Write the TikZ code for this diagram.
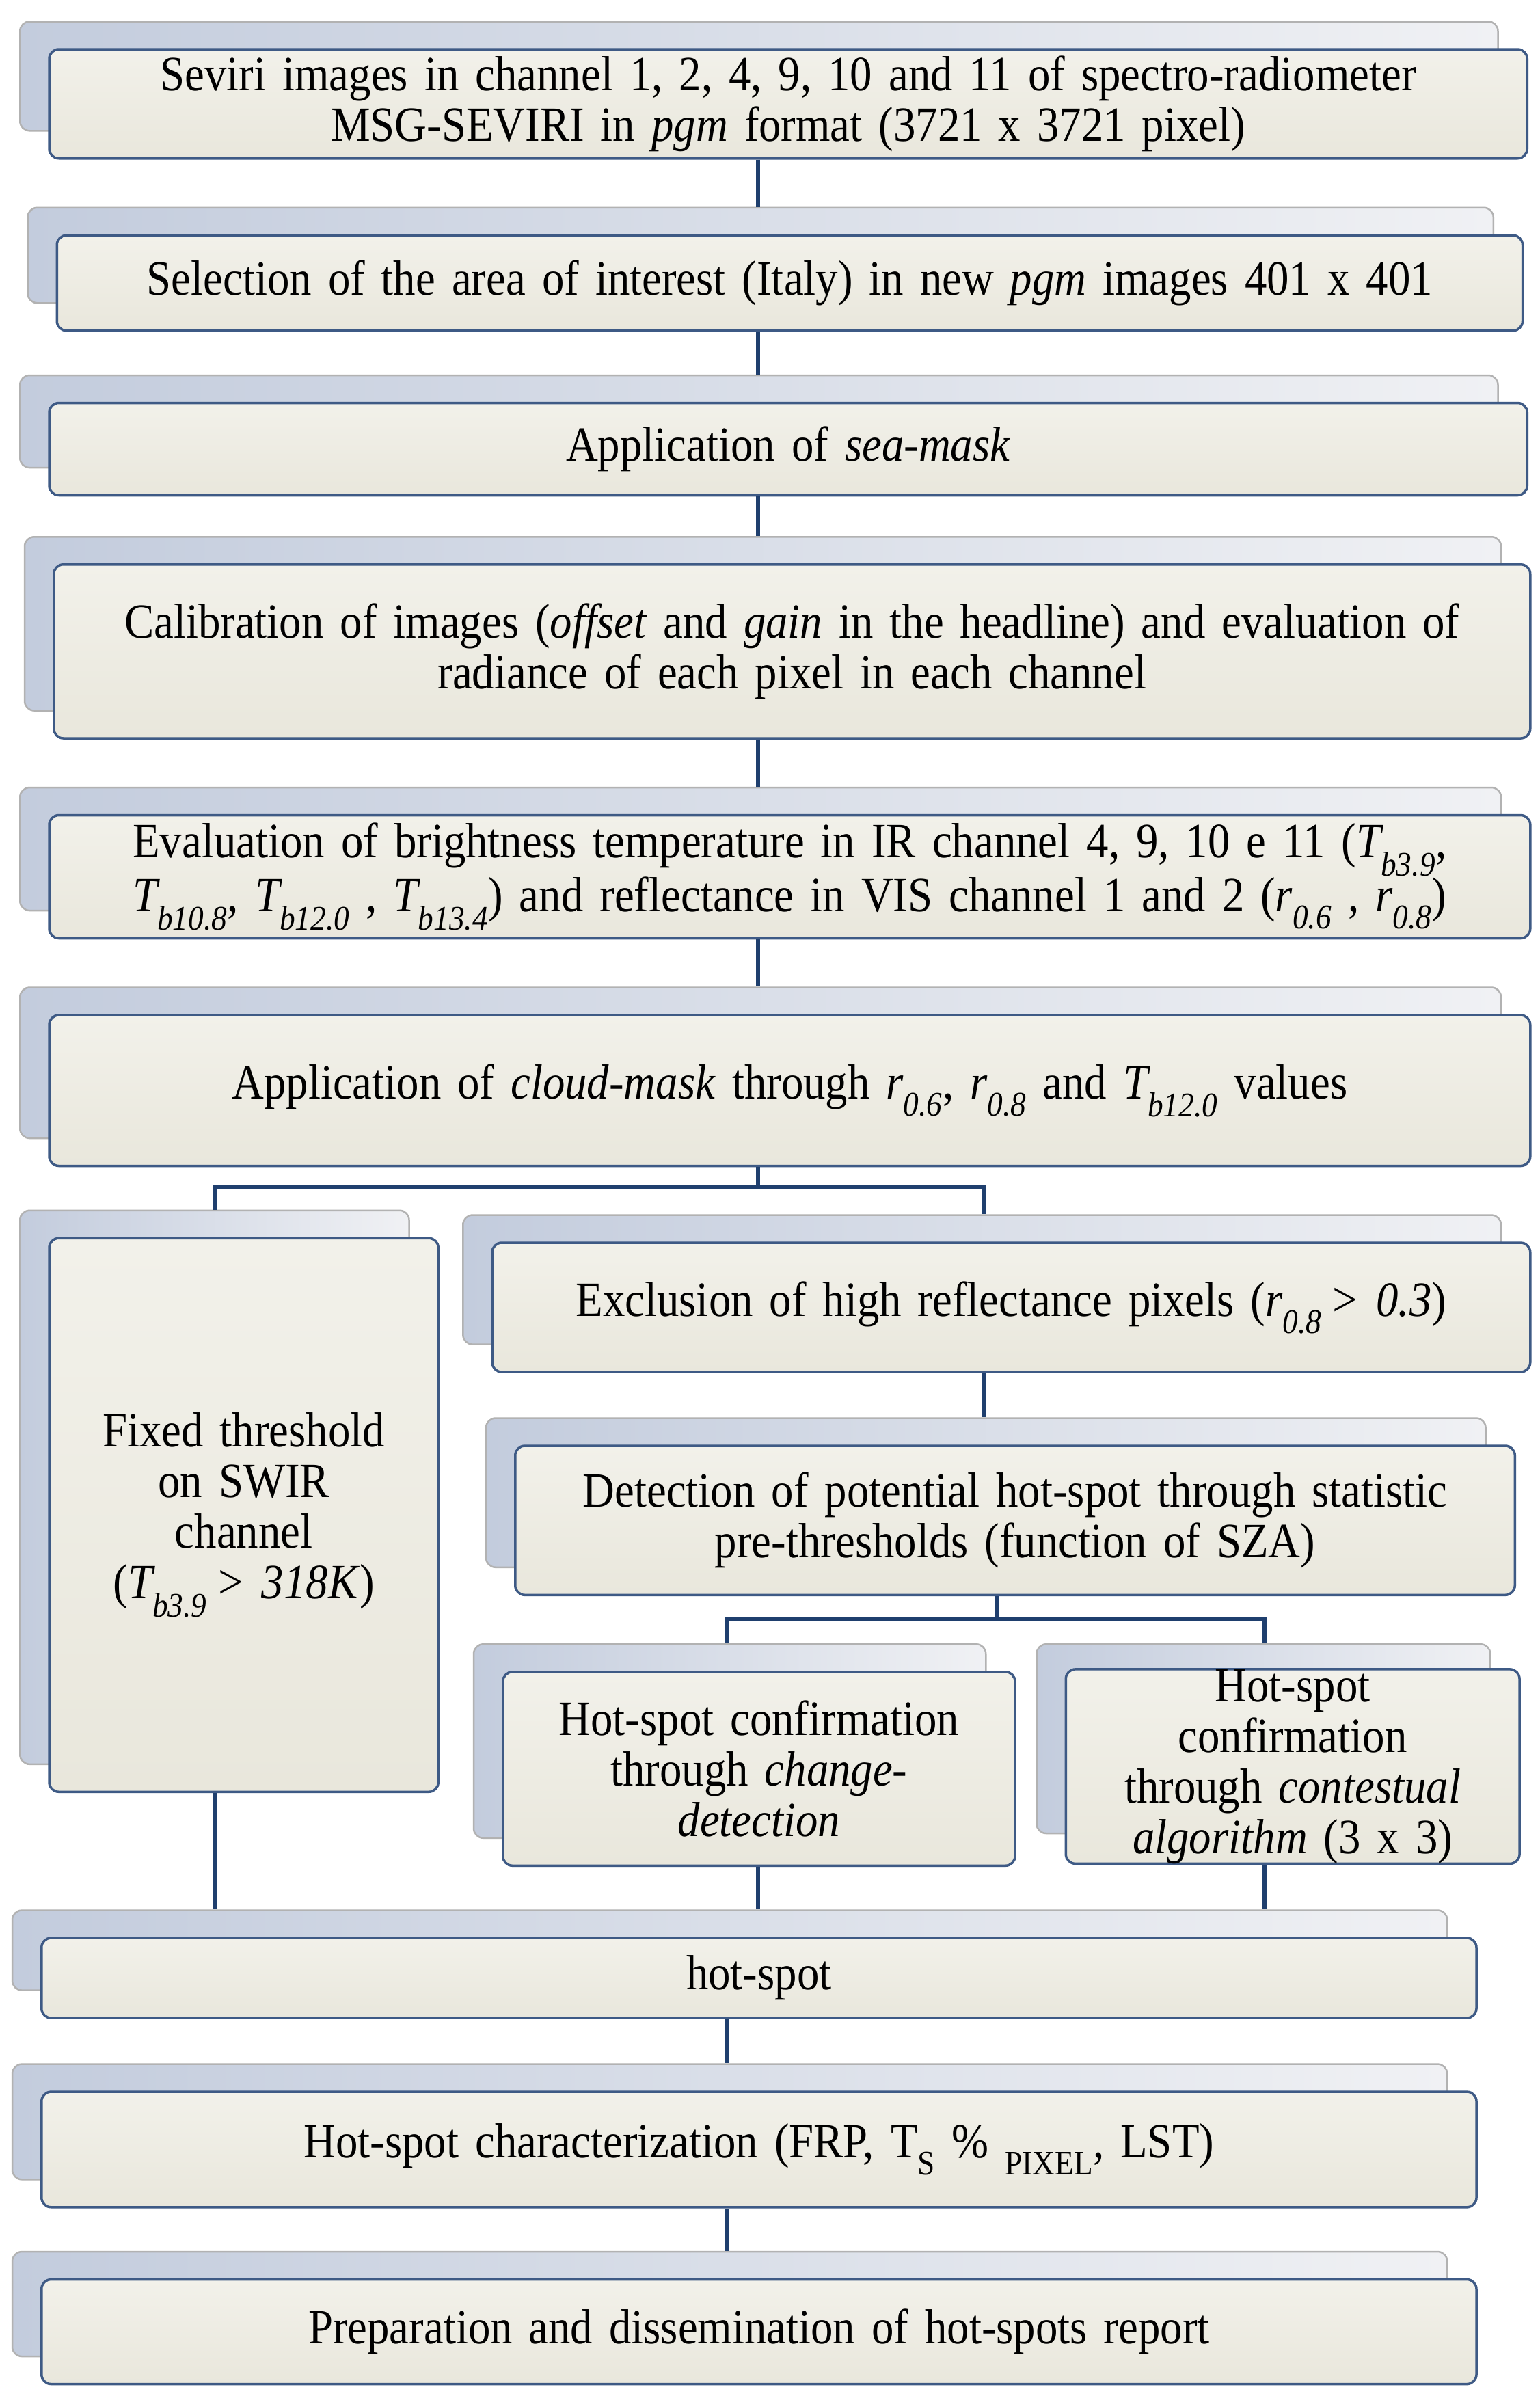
\documentclass[tikz,border=0pt]{standalone}
\usepackage{fontspec}
\setmainfont{Liberation Serif}[FakeStretch=0.9]
\definecolor{bkL}{HTML}{C3CCDD}
\definecolor{bkR}{HTML}{F0F1F4}
\definecolor{frT}{HTML}{F2F1EA}
\definecolor{frB}{HTML}{E9E7DC}
\definecolor{frD}{HTML}{3E5A85}
\definecolor{cn}{HTML}{1F3F6E}
\begin{document}
\begin{tikzpicture}[x=2.25pt,y=-2.25pt,
 backbox/.style={draw=black!30,line width=2.5pt,rounded corners=14pt,left color=bkL,right color=bkR},
 frontbox/.style={draw=frD,line width=3.5pt,rounded corners=14pt,top color=frT,bottom color=frB,align=center,inner sep=0pt,font=\fontsize{72}{74}\selectfont},
 conn/.style={draw=cn,line width=6pt}]
\useasboundingbox[fill=white] (0,0) rectangle (1001.3,1559.1);
\newcommand\flowbox[6]{%
 \pgfmathsetmacro\bxw{(#4-#2)*2.25}\pgfmathsetmacro\bxh{(#5-#3)*2.25}\pgfmathsetmacro\bxt{(#4-#2)*2.25-30}%
 \node[backbox,minimum width=\bxw pt,minimum height=\bxh pt] (#1b) at ({(#2+#4)/2-19},{(#3+#5)/2-18}) {};
 \node[frontbox,minimum width=\bxw pt,minimum height=\bxh pt,text width=\bxt pt] (#1) at ({(#2+#4)/2},{(#3+#5)/2}) {#6};}
\coordinate (xa) at (493,0); \coordinate (xb) at (140,0); \coordinate (xc) at (640,0);
\coordinate (xd) at (473,0); \coordinate (xe) at (822,0); \coordinate (xf) at (648,0);
\coordinate (ya) at (0,772); \coordinate (yb) at (0,1053);
\flowbox{n1}{32}{32}{993}{103}{Seviri images in channel 1, 2, 4, 9, 10 and 11 of spectro-radiometer\\ MSG-SEVIRI in \textit{pgm} format (3721 x 3721 pixel)}
\flowbox{n2}{37}{153}{990}{215}{Selection of the area of interest (Italy) in new \textit{pgm} images 401 x 401}
\flowbox{n3}{32}{262}{993}{322}{Application of \textit{sea-mask}}
\flowbox{n4}{35}{367}{995}{480}{Calibration of images (\textit{offset} and \textit{gain} in the headline) and evaluation of\\ radiance of each pixel in each channel}
\flowbox{n5}{32}{530}{995}{610}{Evaluation of brightness temperature in IR channel 4, 9, 10 e 11 (\textit{T\textsubscript{b3.9}},\\ \textit{T\textsubscript{b10.8}}, \textit{T\textsubscript{b12.0}} , \textit{T\textsubscript{b13.4}}) and reflectance in VIS channel 1 and 2 (\textit{r\textsubscript{0.6}} , \textit{r\textsubscript{0.8}})}
\flowbox{n6}{32}{660}{995}{758}{Application of \textit{cloud-mask} through \textit{r\textsubscript{0.6}}, \textit{r\textsubscript{0.8}} and \textit{T\textsubscript{b12.0}} values}
\flowbox{n7}{32}{805}{285}{1165}{Fixed threshold\\ on SWIR\\ channel\\ (\textit{T\textsubscript{b3.9}\,> 318K})}
\flowbox{n8}{320}{808}{995}{892}{Exclusion of high reflectance pixels (\textit{r\textsubscript{0.8}\,> 0.3})}
\flowbox{n9}{335}{940}{985}{1037}{Detection of potential hot-spot through statistic\\ pre-thresholds (function of SZA)}
\flowbox{n10}{327}{1087}{660}{1213}{Hot-spot confirmation\\ through \textit{change-}\\ \textit{detection}}
\flowbox{n11}{693}{1087}{988}{1210}{Hot-spot\\ confirmation\\ through \textit{contestual}\\ \textit{algorithm} (3 x 3)}
\flowbox{n12}{27}{1260}{960}{1312}{hot-spot}
\flowbox{n13}{27}{1360}{960}{1435}{Hot-spot characterization (FRP, T\textsubscript{S} \% \textsubscript{PIXEL}, LST)}
\flowbox{n14}{27}{1482}{960}{1550}{Preparation and dissemination of hot-spots report}
\draw[conn] (xa|-n1.south) -- (xa|-n2b.north);
\draw[conn] (xa|-n2.south) -- (xa|-n3b.north);
\draw[conn] (xa|-n3.south) -- (xa|-n4b.north);
\draw[conn] (xa|-n4.south) -- (xa|-n5b.north);
\draw[conn] (xa|-n5.south) -- (xa|-n6b.north);
\draw[conn] (xa|-n6.south) -- (xa|-ya) (xb|-n7b.north) -- (xb|-ya) -- (xc|-ya) -- (xc|-n8b.north);
\draw[conn] (xc|-n8.south) -- (xc|-n9b.north);
\draw[conn] (xf|-n9.south) -- (xf|-yb) (xd|-n10b.north) -- (xd|-yb) -- (xe|-yb) -- (xe|-n11b.north);
\draw[conn] (xb|-n7.south) -- (xb|-n12b.north);
\draw[conn] (xa|-n10.south) -- (xa|-n12b.north);
\draw[conn] (xe|-n11.south) -- (xe|-n12b.north);
\draw[conn] (xd|-n12.south) -- (xd|-n13b.north);
\draw[conn] (xd|-n13.south) -- (xd|-n14b.north);
\end{tikzpicture}
\end{document}
